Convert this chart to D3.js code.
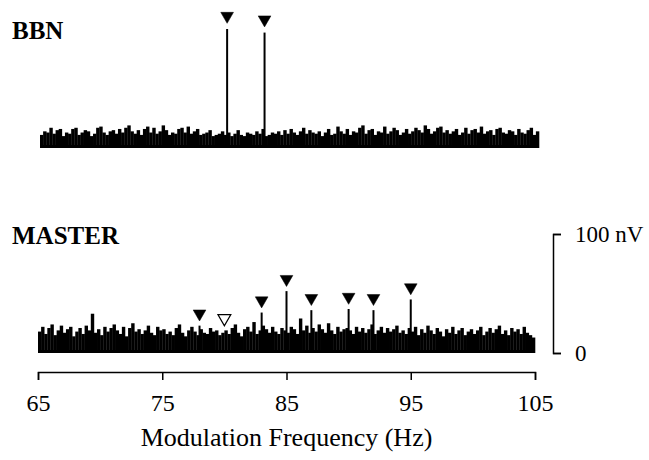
<!DOCTYPE html>
<html><head><meta charset="utf-8">
<script src="https://cdn.jsdelivr.net/npm/d3@7/dist/d3.min.js"></script>
<style>
body{margin:0;background:#fff;}
</style></head>
<body><svg id="c" width="649" height="460"></svg>
<script>
// ---- data (nV), noise bins every 0.25 Hz starting at 65 Hz ----
const binStart = 65, binStep = 0.25;
const bbnNoise = [
11,14,13,17,12,15,16,10,13,12,16,17,11,13,15,14,10,12,17,18,
13,11,14,15,12,16,13,17,19,14,12,15,11,16,18,13,17,12,14,19,
15,11,13,12,16,17,13,18,12,14,16,11,12,13,15,10,11,12,14,11,
13,10,12,15,11,10,13,12,11,14,12,16,10,11,13,12,14,11,15,12,
16,13,11,14,17,12,15,13,12,14,10,13,16,11,12,18,14,12,16,11,
14,13,17,19,12,15,16,11,14,13,18,12,14,17,15,11,13,16,12,14,
17,15,13,19,16,12,14,17,18,13,15,12,14,16,11,13,17,12,15,16,
13,18,12,14,15,11,16,17,13,12,15,14,11,16,13,12,15,17,11,14];
const masterNoise = [
18,22,16,21,24,15,19,23,17,20,22,14,18,21,16,23,19,33,17,20,
15,22,18,21,24,19,16,22,14,21,25,18,20,16,19,23,17,15,22,19,
20,16,18,15,21,24,17,14,19,22,18,15,20,17,16,21,18,19,15,17,
19,16,21,24,17,14,20,22,18,26,16,19,23,20,17,22,18,16,21,19,
17,22,20,16,29,19,23,17,21,18,24,20,17,25,19,16,22,18,20,21,
19,16,22,18,21,17,20,24,16,19,22,17,21,18,20,23,17,19,16,21,
18,22,15,20,17,23,19,16,21,18,14,20,17,22,16,19,21,15,18,20,
16,19,22,15,18,21,17,20,23,16,19,15,21,18,20,16,22,17,15,13];
const bbnPeakFreq = [80, 83];
const bbnPeakAmp  = [100, 97];
const masterPeakFreq = [78, 83, 85, 87, 90, 92, 95];
const masterPeakAmp  = [23, 34, 52, 36, 37, 36, 45];
const masterOpenFreq = [80];
const masterOpenAmp  = [19];
const xTicks = [65, 75, 85, 95, 105];
const scaleTicks = [0, 100];
const panelLabels = ["BBN", "MASTER"];
const xTitle = "Modulation Frequency (Hz)";

const svg = d3.select("#c");
const font = "'Times New Roman', 'Liberation Serif', 'DejaVu Serif', serif";

function panel(cfg){
  const x = d3.scaleLinear().domain([65,105]).range(cfg.xr);
  const y = d3.scaleLinear().domain([0,100]).range(cfg.yr);
  const g = svg.append("g");
  const bins = cfg.noise.map((v,i)=>({f:binStart+i*binStep, v}));
  g.selectAll("rect.n").data(bins).join("rect")
    .attr("x", d=>x(d.f)).attr("width", d=>x(d.f+binStep)-x(d.f)+0.3)
    .attr("y", d=>y(d.v)).attr("height", d=>y(0)-y(d.v)).attr("fill","#000");
  g.append("rect").attr("x",x(65)).attr("width",x(105)-x(65))
    .attr("y",y(0)-3).attr("height",3).attr("fill","#000");
  const peaks = cfg.pf.map((f,i)=>({f, a:cfg.pa[i]}));
  g.selectAll("line.p").data(peaks).join("line")
    .attr("x1",d=>x(d.f)).attr("x2",d=>x(d.f))
    .attr("y1",y(0)).attr("y2",d=>y(d.a))
    .attr("stroke","#000").attr("stroke-width",2);
  const tri = d3.symbol().type(d3.symbolTriangle).size(cfg.triSize);
  const marks = peaks.map(d=>({f:d.f,a:d.a,open:false}))
    .concat(cfg.of.map((f,i)=>({f,a:cfg.oa[i],open:true})));
  g.selectAll("path.m").data(marks).join("path")
    .attr("d", tri)
    .attr("transform", d=>`translate(${x(d.f)},${y(d.a)-cfg.gap-4}) rotate(180)`)
    .attr("fill", d=>d.open?"#fff":"#000")
    .attr("stroke","#000").attr("stroke-width", d=>d.open?1.3:0.5);
  svg.append("text").attr("x",cfg.lx).attr("y",cfg.ly)
    .attr("style",`font-family:${font};font-size:${cfg.lsize}px;font-weight:bold`)
    .text(cfg.label);
  return {x,y};
}

panel({xr:[40,539], yr:[148,29], noise:bbnNoise, pf:bbnPeakFreq, pa:bbnPeakAmp,
  of:[], oa:[], triSize:70, gap:9, label:panelLabels[0], lx:12, ly:39, lsize:25});
const m = panel({xr:[38,535], yr:[353,234], noise:masterNoise, pf:masterPeakFreq, pa:masterPeakAmp,
  of:masterOpenFreq, oa:masterOpenAmp, triSize:70, gap:8, label:panelLabels[1], lx:12, ly:244, lsize:25});

// bottom axis
const xa = d3.axisBottom(m.x).tickValues(xTicks).tickSize(8).tickSizeOuter(8).tickPadding(14);
const gx = svg.append("g").attr("transform","translate(0,372)").call(xa);
gx.selectAll("path,line").attr("stroke","#000").attr("stroke-width",1.5);
gx.selectAll("text").attr("style",`font-family:${font};font-size:24px`);
svg.append("text").attr("x",(m.x(65)+m.x(105))/2).attr("y",446)
  .attr("text-anchor","middle").attr("style",`font-family:${font};font-size:26px`).text(xTitle);

// scale bar
const sa = d3.axisRight(m.y).tickValues(scaleTicks).tickSize(8).tickSizeOuter(8).tickPadding(14)
  .tickFormat(d=> d===100 ? "100 nV" : "0");
const gs = svg.append("g").attr("transform","translate(553,0)").call(sa);
gs.selectAll("path,line").attr("stroke","#000").attr("stroke-width",1.5);
gs.selectAll("text").attr("style",`font-family:${font};font-size:23px`);
</script></body></html>
